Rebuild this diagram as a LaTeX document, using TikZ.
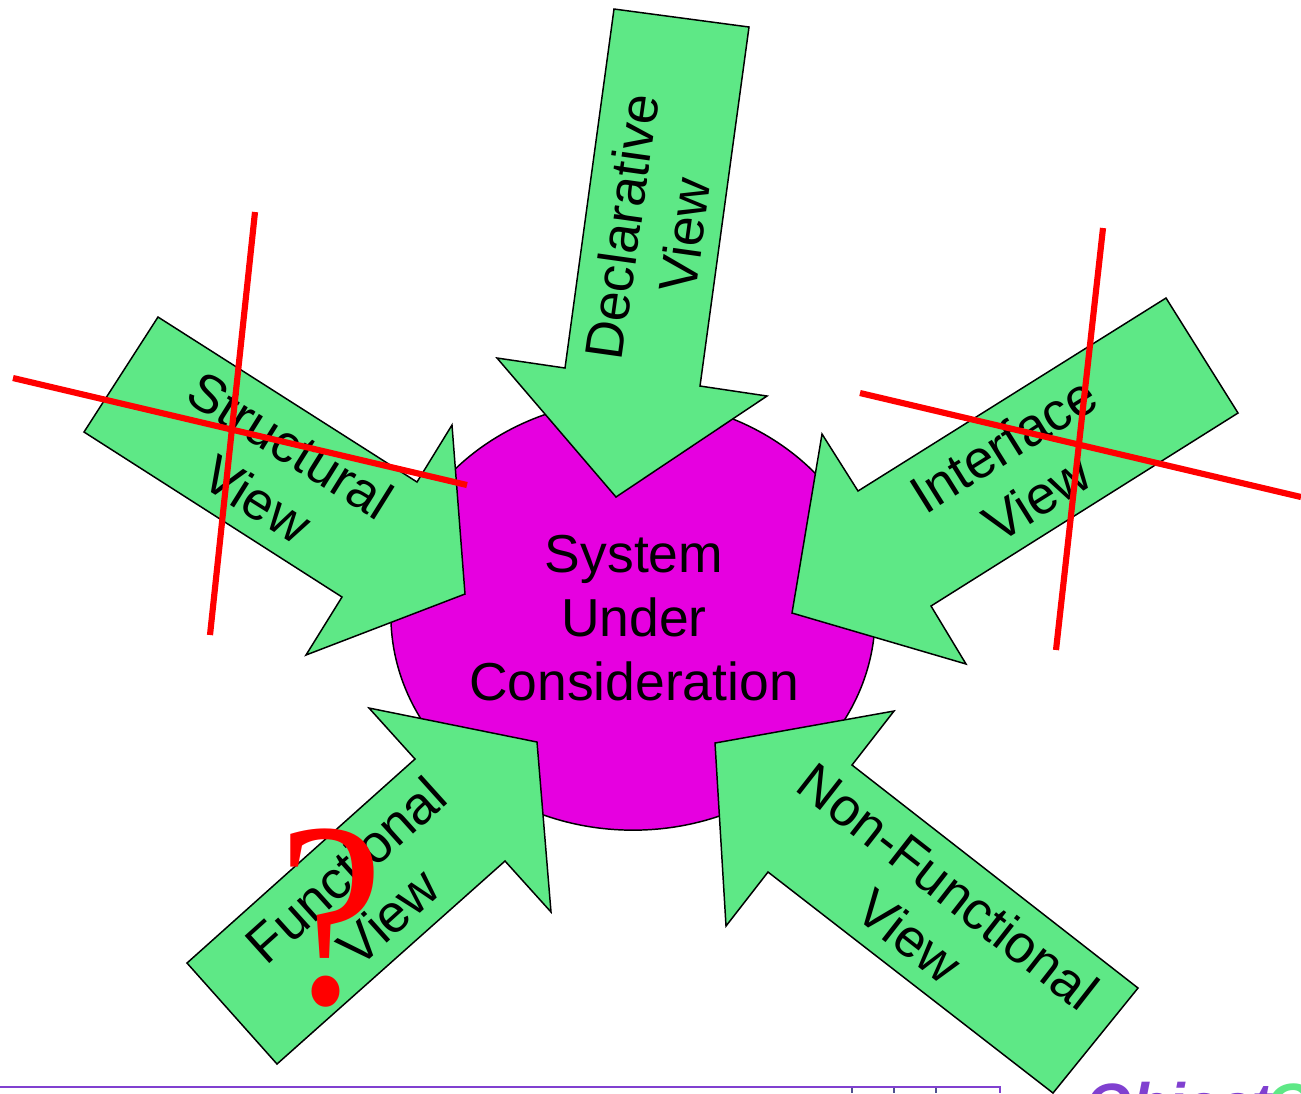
\documentclass[tikz,border=0pt]{standalone}
\usepackage{fontspec}
\usetikzlibrary{shapes.geometric}
\setmainfont{Liberation Sans}
\newfontfamily\qfont{Liberation Serif}
\definecolor{arrowgreen}{HTML}{5EE886}
\definecolor{sysmag}{HTML}{E600E0}
\definecolor{crossred}{HTML}{FF0000}
\definecolor{framepurple}{HTML}{8040D0}
\definecolor{tickblue}{HTML}{505090}
\tikzset{
  viewarrow/.style={draw=black,fill=arrowgreen,line width=0.42pt,line join=miter},
  crossline/.style={draw=crossred,line width=1.75pt},
  viewlabel/.style={align=center,inner sep=0pt,font=\fontsize{15.2}{18}\selectfont},
  framerule/.style={draw=framepurple,line width=0.55pt}
}
\begin{document}
\begin{tikzpicture}[x=0.01cm,y=-0.01cm]
\useasboundingbox (0,0) rectangle (1301,1093);
\clip (0,0) rectangle (1301,1093);
\node[draw=black,fill=sysmag,line width=0.42pt,ellipse,minimum width=4.84cm,minimum height=4.3cm,inner sep=0pt] (sys) at (633,615) {};
\node[viewlabel,font=\fontsize{15.2}{18.2}\selectfont] (syslabel) at (634,618) {System\\Under\\Consideration};
\path[viewarrow] (614,9)--(749,27)--(700,386)--(767,396)--(616,497)--(497,358)--(565,368)--cycle;
\path[viewarrow] (158,317)--(84,432)--(342,597)--(306,655)--(465,594)--(452,425)--(417,482)--cycle;
\path[viewarrow] (1166,298)--(1238,413)--(931,606)--(966,664)--(792,613)--(822,434)--(858,491)--cycle;
\path[viewarrow] (187,963)--(277,1064)--(505,861)--(551,912)--(537,742)--(369,708)--(415,759)--cycle;
\path[viewarrow] (1138,988)--(1053,1093)--(768,872)--(726,926)--(715,743)--(894,711)--(852,765)--cycle;
\node[viewlabel,rotate=82] (decl) at (653,231) {Declarative\\View};
\node[viewlabel,rotate=-32] (struct) at (274,472) {Structural\\View};
\node[viewlabel,rotate=32] (iface) at (1020,471) {Interface\\View};
\node[viewlabel,rotate=42] (func) at (367,893) {Functional\\View};
\node[viewlabel,rotate=-38] (nonf) at (929,911) {Non-Functional\\View};
\coordinate (a1) at (255,212); \coordinate (a2) at (210,635);
\coordinate (b1) at (13,378); \coordinate (b2) at (467,485);
\coordinate (c1) at (1103,228); \coordinate (c2) at (1056,650);
\coordinate (d1) at (860,393); \coordinate (d2) at (1301,497);
\draw[crossline] (a1)--(a2);
\draw[crossline] (b1)--(b2);
\draw[crossline] (c1)--(c2);
\draw[crossline] (d1)--(d2);
\node[text=crossred,inner sep=0pt,xscale=0.9,font=\qfont\fontsize{75}{75}\selectfont] (qm) at (331,918) {?};
\draw[draw=tickblue,line width=0.4pt] (852,1087)--(852,1093) (894,1087)--(894,1093) (936,1087)--(936,1093);
\coordinate (f1) at (0,1087); \coordinate (f2) at (1000,1087); \coordinate (f3) at (1000,1093);
\draw[framerule] (f1)--(f2)--(f3);
\node[anchor=base west,inner sep=0pt,text=framepurple,font=\bfseries\itshape\fontsize{17}{20}\selectfont] (logo) at (1085,1125) {Object};
\node[anchor=base west,inner sep=0pt,text=arrowgreen,font=\bfseries\itshape\fontsize{17}{20}\selectfont] (logob) at (1266,1125) {G};
\end{tikzpicture}
\end{document}
